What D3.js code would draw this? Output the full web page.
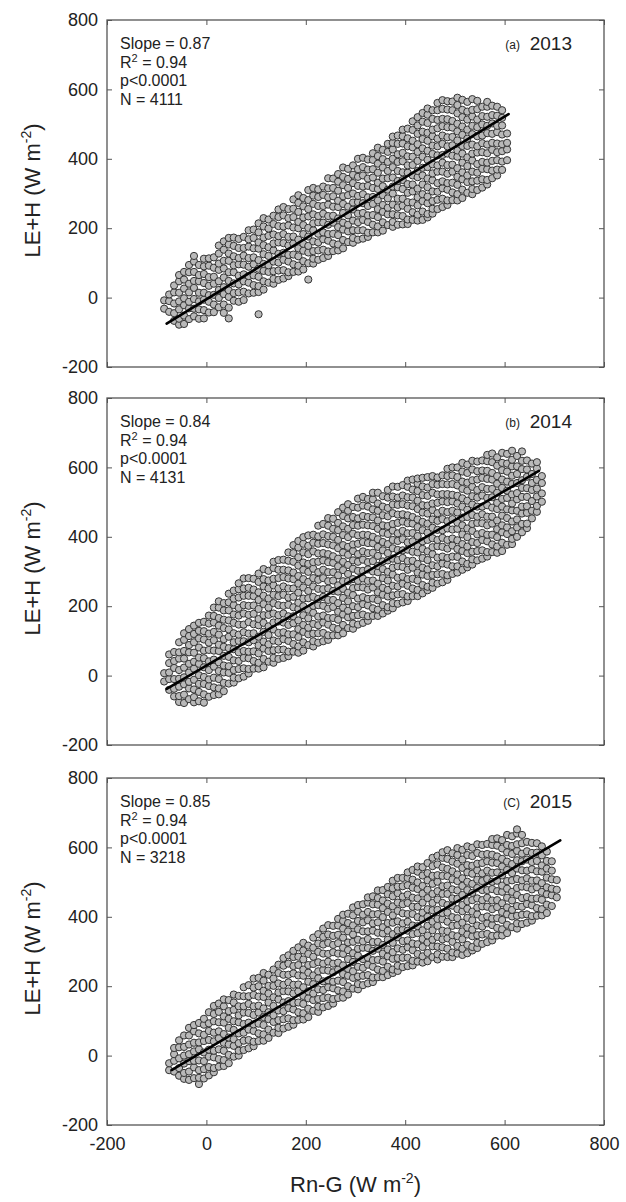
<!DOCTYPE html>
<html><head><meta charset="utf-8">
<script src="https://cdn.jsdelivr.net/npm/d3@7"></script>
<style>
body{margin:0;background:#fff}
svg{display:block}
text{font-family:"Liberation Sans",Arial,Helvetica,sans-serif;fill:#222}
</style></head>
<body><svg id="chart" width="626" height="1202"></svg>
<script>
// ---------- data ----------
const xTicks = [-200, 0, 200, 400, 600, 800];
const yTicks = [-200, 0, 200, 400, 600, 800];
const panelLetters = ["(a)", "(b)", "(C)"];
const years = ["2013", "2014", "2015"];
const slopes = ["0.87", "0.84", "0.85"];
const r2s = ["0.94", "0.94", "0.94"];
const pvals = ["p<0.0001", "p<0.0001", "p<0.0001"];
const ns = ["4111", "4131", "3218"];
// regression line end points (Rn-G, LE+H)
const fitX = [[-80, 608], [-80, 669], [-70, 712]];
const fitY = [[-75, 529], [-38, 590], [-42, 620]];

// scatter points grouped by Rn-G value: [Rn-G, [LE+H values]]
const pts2013 = [
[-85,[-32,-8]],[-75,[-41,-10,9]],[-65,[-67,-45,-17,15,35]],[-55,[-78,-61,-34,-11,14,47,65]],[-45,[-76,-52,-22,-2,26,52,74]],
[-35,[-62,-31,-12,15,40,73,94]],[-25,[-54,-32,-4,28,48,74,104,120]],[-15,[-61,-34,-11,14,47,65,94]],[-5,[-60,-36,-6,14,42,68,90,112]],[5,[-43,-12,7,34,59,92,113]],
[15,[-42,-20,8,40,60,86,116]],[25,[-28,-1,22,47,80,98,127,150]],[35,[-44,-20,10,30,58,84,106,138,162]],[45,[-60,-29,2,21,48,73,106,127,153,172]],[55,[-9,13,41,73,93,119,149,173]],
[65,[-12,15,38,63,96,114,143,169]],[75,[-7,17,47,67,95,121,143,175]],[85,[12,43,62,89,114,147,168,194]],[95,[14,36,64,96,116,142,172,196]],[105,[-48,16,33,60,83,108,141,159,188,214]],
[115,[23,47,77,97,125,151,173,205,229]],[125,[43,74,93,120,145,178,199,225]],[135,[40,54,76,104,136,156,182,212,236]],[145,[51,78,101,126,159,177,206,232,254]],[155,[55,79,109,129,157,183,205,237,261]],
[165,[62,73,104,123,150,175,208,229,255]],[175,[74,96,124,156,176,202,232,256,283]],[185,[75,92,119,142,167,200,218,247,273,295]],[195,[81,105,135,155,183,209,231,263,287]],[205,[52,99,130,149,176,201,234,255,281,310]],
[215,[98,112,134,162,194,214,240,270,294,316]],[225,[109,136,159,184,217,235,264,290,312]],[235,[114,138,168,188,216,242,264,296,320]],[245,[120,133,164,183,210,235,268,289,315,344]],[255,[134,156,184,216,236,262,292,316,343]],
[265,[136,153,180,203,228,261,279,308,334,356]],[275,[142,166,196,216,244,270,292,324,348,375]],[285,[160,191,210,237,262,295,316,342,371]],[295,[158,172,194,222,254,274,300,330,354,381]],[305,[167,194,217,242,275,293,322,348,370,400]],
[315,[170,194,224,244,272,298,320,352,376,403]],[325,[175,187,218,237,264,289,322,343,369,398]],[335,[188,210,238,270,290,316,346,370,397,416]],[345,[188,205,232,255,280,313,331,360,386,408,432]],[355,[193,217,247,267,295,321,343,375,399,426]],
[365,[209,240,259,286,311,344,365,391,420,443]],[375,[204,218,240,268,300,320,346,376,400,427,446,464]],[385,[210,237,260,285,318,336,365,391,413,443,467]],[395,[211,235,265,285,313,339,361,393,417,444,465,484]],[405,[212,225,256,275,302,327,360,381,407,436,459,487]],
[415,[224,246,274,306,326,352,382,406,433,452,483,508]],[425,[222,239,266,289,314,347,365,394,420,442,472,496,520]],[435,[224,248,278,298,326,352,374,406,430,457,478,507,532]],[445,[231,241,272,291,318,343,376,397,423,452,475,503,527,545]],[455,[242,256,278,306,338,358,384,414,438,465,484,515,540]],
[465,[255,282,305,330,363,381,410,436,458,488,512,540,561]],[475,[261,285,315,335,363,389,411,443,467,494,515,544,569]],[485,[267,280,311,330,357,382,415,436,462,491,514,542,566]],[495,[281,303,331,363,383,409,439,463,490,509,540,565]],[505,[280,298,325,348,373,406,424,453,479,501,531,555,576]],
[515,[287,311,341,361,389,415,437,469,493,520,541,570]],[525,[302,333,352,379,404,437,458,484,513,536,564]],[535,[298,313,335,363,395,415,441,471,495,522,541,572]],[545,[310,337,360,385,418,436,465,491,513,543,567]],[555,[317,341,371,391,419,445,467,499,523,550]],
[565,[326,339,370,389,416,441,474,495,521,550,564]],[575,[344,366,394,426,446,472,502,526,553]],[585,[352,369,396,419,444,477,495,524,550]],[595,[368,392,422,442,470,496,518,540]],[605,[396,427,446,473]]
];

const pts2014 = [
[-85,[-17,7]],[-75,[-41,-10,9,36,61]],[-65,[-60,-38,-10,22,42,68]],[-55,[-76,-59,-32,-9,16,49,67,96]],[-45,[-79,-55,-25,-5,23,49,71,103,122]],
[-35,[-68,-37,-18,9,34,67,88,114,134]],[-25,[-77,-62,-40,-12,20,40,66,96,120,144]],[-15,[-74,-47,-24,1,34,52,81,107,129,152]],[-5,[-78,-54,-24,-4,24,50,72,104,128,155]],[5,[-61,-30,-11,16,41,74,95,121,150,173]],
[15,[-56,-34,-6,26,46,72,102,126,153,172,196]],[25,[-54,-37,-10,13,38,71,89,118,144,166,196,214]],[35,[-45,-21,9,29,57,83,105,137,161,188,209]],[45,[-23,8,27,54,79,112,133,159,188,211,236]],[55,[-20,-6,16,44,76,96,122,152,176,203,222,245]],
[65,[-8,19,42,67,100,118,147,173,195,225,249,266]],[75,[-3,21,51,71,99,125,147,179,203,230,251,280]],[85,[6,19,50,69,96,121,154,175,201,230,253,281]],[95,[20,42,70,102,122,148,178,202,229,248,279]],[105,[20,37,64,87,112,145,163,192,218,240,270,294]],
[115,[24,48,78,98,126,152,174,206,230,257,278,307]],[125,[40,71,90,117,142,175,196,222,251,274,302]],[135,[37,51,73,101,133,153,179,209,233,260,279,310,328]],[145,[48,75,98,123,156,174,203,229,251,281,305,333]],[155,[51,75,105,125,153,179,201,233,257,284,305,334]],
[165,[56,69,100,119,146,171,204,225,251,280,303,331,355]],[175,[69,91,119,151,171,197,227,251,278,297,328,353,376]],[185,[66,84,111,134,159,192,210,239,265,287,317,341,369,388]],[195,[72,96,126,146,174,200,222,254,278,305,326,355,380,399]],[205,[88,119,138,165,190,223,244,270,299,322,350,374,404]],
[215,[84,99,121,149,181,201,227,257,281,308,327,358,383,406]],[225,[95,122,145,170,203,221,250,276,298,328,352,380,401,432]],[235,[99,123,153,173,201,227,249,281,305,332,353,382,407,437]],[245,[103,116,147,166,193,218,251,272,298,327,350,378,402,432,454]],[255,[116,138,166,198,218,244,274,298,325,344,375,400,423,452]],
[265,[116,134,161,184,209,242,260,289,315,337,367,391,419,440,471]],[275,[122,146,176,196,224,250,272,304,328,355,376,405,430,460,484]],[285,[137,168,187,214,239,272,293,319,348,371,399,423,453,475,494]],[295,[135,150,172,200,232,252,278,308,332,359,378,409,434,457,486]],[305,[147,174,197,222,255,273,302,328,350,380,404,432,453,484,510]],
[315,[152,176,206,226,254,280,302,334,358,385,406,435,460,490,515]],[325,[158,171,202,221,248,273,306,327,353,382,405,433,457,487,509]],[335,[172,194,222,254,274,300,330,354,381,400,431,456,479,508,527]],[345,[172,190,217,240,265,298,316,345,371,393,423,447,475,496,527]],[355,[179,203,233,253,281,307,329,361,385,412,433,462,487,517]],
[365,[187,197,228,247,274,299,332,353,379,408,431,459,483,513,535]],[375,[194,209,231,259,291,311,337,367,391,418,437,468,493,516,545]],[385,[207,234,257,282,315,333,362,388,410,440,464,492,513,544]],[395,[211,235,265,285,313,339,361,393,417,444,465,494,519,549]],[405,[215,228,259,278,305,330,363,384,410,439,462,490,514,544,562]],
[415,[229,251,279,311,331,357,387,411,438,457,488,513,536,565]],[425,[229,247,274,297,322,355,373,402,428,450,480,504,532,553,568]],[435,[237,261,291,311,339,365,387,419,443,470,491,520,545,570]],[445,[246,256,287,306,333,358,391,412,438,467,490,518,542,572]],[455,[253,268,290,318,350,370,396,426,450,477,496,527,552,575]],
[465,[265,292,315,340,373,391,420,446,468,498,522,550,571]],[475,[269,293,323,343,371,397,419,451,475,502,523,552,577]],[485,[276,289,320,339,366,391,424,445,471,500,523,551,575,596]],[495,[293,315,343,375,395,421,451,475,502,521,552,577,600]],[505,[297,315,342,365,390,423,441,470,496,518,548,572,600]],
[515,[305,329,359,379,407,433,455,487,511,538,559,588,613]],[525,[312,322,353,372,399,424,457,478,504,533,556,584,608]],[535,[320,335,357,385,417,437,463,493,517,544,563,594,619]],[545,[332,359,382,407,440,458,487,513,535,565,589,617]],[555,[337,361,391,411,439,465,487,519,543,570,591,620]],
[565,[343,356,387,406,433,458,491,512,538,567,590,618,636]],[575,[356,378,406,438,458,484,514,538,565,584,615,640]],[585,[354,372,399,422,447,480,498,527,553,575,605,629]],[595,[359,383,413,433,461,487,509,541,565,592,613,642]],[605,[377,408,427,454,479,512,533,559,588,611,639]],
[615,[379,394,416,444,476,496,522,552,576,603,622,648]],[625,[400,427,450,475,508,526,555,581,603,633]],[635,[413,437,467,487,515,541,563,595,619,646]],[645,[425,438,469,488,515,540,573,594,620]],[655,[453,475,503,535,555,581,611]],
[665,[472,489,516,539,564,597,615]],[675,[501,525,555,575]]
];

const pts2015 = [
[-75,[-42,-22]],[-65,[-46,-15,4,22]],[-55,[-58,-36,-8,24,44]],[-45,[-67,-50,-23,0,25,58]],[-35,[-70,-46,-16,4,32,58,80]],
[-25,[-65,-34,-15,12,37,70,88]],[-15,[-82,-64,-42,-14,18,38,64,94]],[-5,[-66,-39,-16,9,42,60,89,106]],[5,[-57,-33,-3,17,45,71,93,125]],[15,[-48,-36,-5,14,41,66,99,120,143]],
[25,[-32,-10,18,50,70,96,126,150]],[35,[-30,-13,14,37,62,95,113,142,162]],[45,[-22,2,32,52,80,106,128,160]],[55,[-3,28,47,74,99,132,153,176]],[65,[0,14,36,64,96,116,142,172]],
[75,[16,43,66,91,124,142,171,197]],[85,[21,45,75,95,123,149,171,203]],[95,[27,40,71,90,117,142,175,196,222]],[105,[42,64,92,124,144,170,200,224]],[115,[43,61,88,111,136,169,187,216,238]],
[125,[51,75,105,125,153,179,201,233]],[135,[66,97,116,143,168,201,222,248]],[145,[65,80,102,130,162,182,208,238,262]],[155,[78,105,128,153,186,204,233,259,281]],[165,[83,107,137,157,185,211,233,265,289]],
[175,[89,102,133,152,179,204,237,258,284,302]],[185,[103,125,153,185,205,231,261,285,312]],[195,[104,122,149,172,197,230,248,277,303,325]],[205,[111,135,165,185,213,239,261,293,317]],[215,[129,160,179,206,231,264,285,311,340]],
[225,[126,141,163,191,223,243,269,299,323,350]],[235,[139,166,189,214,247,265,294,320,342,366]],[245,[143,167,197,217,245,271,293,325,349,376]],[255,[150,163,194,213,240,265,298,319,345,374]],[265,[166,188,216,248,268,294,324,348,375,394]],
[275,[167,185,212,235,260,293,311,340,366,388,406]],[285,[176,200,230,250,278,304,326,358,382,409]],[295,[193,224,243,270,295,328,349,375,404,427]],[305,[191,206,228,256,288,308,334,364,388,415,434]],[315,[203,230,253,278,311,329,358,384,406,436]],
[325,[208,232,262,282,310,336,358,390,414,441,456]],[335,[212,225,256,275,302,327,360,381,407,436,459]],[345,[226,248,276,308,328,354,384,408,435,454,476]],[355,[226,244,271,294,319,352,370,399,425,447,477]],[365,[232,256,286,306,334,360,382,414,438,465,486]],
[375,[238,248,279,298,325,350,383,404,430,459,482,504]],[385,[244,259,281,309,341,361,387,417,441,468,487,512]],[395,[255,282,305,330,363,381,410,436,458,488,512]],[405,[258,282,312,332,360,386,408,440,464,491,512,528]],[415,[260,273,304,323,350,375,408,429,455,484,507,535]],
[425,[271,293,321,353,373,399,429,453,480,499,530,545]],[435,[268,286,313,336,361,394,412,441,467,489,519,543]],[445,[272,296,326,346,374,400,422,454,478,505,526,555]],[455,[284,315,334,361,386,419,440,466,495,518,546,570]],[465,[277,292,314,342,374,394,420,450,474,501,520,551,576]],
[475,[285,312,335,360,393,411,440,466,488,518,542,570,586]],[485,[284,308,338,358,386,412,434,466,490,517,538,567,592]],[495,[284,297,328,347,374,399,432,453,479,508,531,559,583]],[505,[294,316,344,376,396,422,452,476,503,522,553,578,598]],[515,[290,308,335,358,383,416,434,463,489,511,541,565,593]],
[525,[295,319,349,369,397,423,445,477,501,528,549,578,603]],[535,[303,313,344,363,390,415,448,469,495,524,547,575,599]],[545,[310,325,347,375,407,427,453,483,507,534,553,584,609]],[555,[322,349,372,397,430,448,477,503,525,555,579,607]],[565,[327,351,381,401,429,455,477,509,533,560,581,610]],
[575,[332,345,376,395,422,447,480,501,527,556,579,607,624]],[585,[346,368,396,428,448,474,504,528,555,574,605,626]],[595,[346,364,391,414,439,472,490,519,545,567,597,621]],[605,[353,377,407,427,455,481,503,535,559,586,607,636]],[615,[370,401,420,447,472,505,526,552,581,604,632]],
[625,[366,381,403,431,463,483,509,539,563,590,609,640,652]],[635,[379,406,429,454,487,505,534,560,582,612,636]],[645,[383,407,437,457,485,511,533,565,589,616]],[655,[389,402,433,452,479,504,537,558,584,613]],[665,[403,425,453,485,505,531,561,585,612]],
[675,[404,422,449,472,497,530,548,577,603]],[685,[411,435,465,485,513,539,561,588]],[695,[431,462,481,508,533,560]],[705,[456,478,506]]
];
const allPts = [pts2013, pts2014, pts2015];

// ---------- layout ----------
const svg = d3.select("#chart");
const left = 107, right = 604;
const tops = [20, 398, 778];
const ph = 347;
const x = d3.scaleLinear().domain([-200, 800]).range([left, right]);
const fmt = d => String(d);

tops.forEach((top, i) => {
  const bottom = top + ph;
  const y = d3.scaleLinear().domain([-200, 800]).range([bottom, top]);
  const g = svg.append("g");

  const flat = [];
  allPts[i].forEach(([xv, ys]) => ys.forEach(yv => flat.push([xv, yv])));
  g.append("g").selectAll("circle").data(flat).join("circle")
    .attr("cx", d => x(d[0])).attr("cy", d => y(d[1])).attr("r", 3.6)
    .attr("fill", "#b9b9b9").attr("stroke", "#333").attr("stroke-width", 1);

  g.append("line")
    .attr("x1", x(fitX[i][0])).attr("y1", y(fitY[i][0]))
    .attr("x2", x(fitX[i][1])).attr("y2", y(fitY[i][1]))
    .attr("stroke", "#000").attr("stroke-width", 2.6).attr("stroke-linecap", "round");

  const ax = (axis, tx, ty, labels) => {
    const a = g.append("g").attr("transform", `translate(${tx},${ty})`)
      .call(axis.tickSize(-5).tickFormat(fmt));
    a.select(".domain").remove();
    a.selectAll(".tick line").attr("stroke", "#555").attr("stroke-width", 1);
    a.selectAll("text").attr("font-size", 18).attr("fill", "#222")
      .attr("font-family", '"Liberation Sans",Arial,sans-serif');
    if (!labels) a.selectAll("text").remove();
    return a;
  };
  ax(d3.axisLeft(y).tickValues(yTicks).tickPadding(9), left, 0, true);
  ax(d3.axisRight(y).tickValues(yTicks), right, 0, false);
  ax(d3.axisTop(x).tickValues(xTicks), 0, top, false);
  ax(d3.axisBottom(x).tickValues(xTicks).tickPadding(12), 0, bottom, i === 2);

  g.append("rect").attr("x", left).attr("y", top).attr("width", right - left).attr("height", ph)
    .attr("fill", "none").attr("stroke", "#555").attr("stroke-width", 1.3);

  const tx = left + 13, ty0 = top + 29, lh = 18.5;
  g.append("text").attr("x", tx).attr("y", ty0).attr("font-size", 16).text("Slope = " + slopes[i]);
  const r = g.append("text").attr("x", tx).attr("y", ty0 + lh).attr("font-size", 16);
  r.append("tspan").text("R");
  r.append("tspan").attr("dy", -6).attr("font-size", 11).text("2");
  r.append("tspan").attr("dy", 6).text(" = " + r2s[i]);
  g.append("text").attr("x", tx).attr("y", ty0 + 2 * lh).attr("font-size", 16).text(pvals[i]);
  g.append("text").attr("x", tx).attr("y", ty0 + 3 * lh).attr("font-size", 16).text("N = " + ns[i]);

  g.append("text").attr("x", 572).attr("y", top + 30).attr("font-size", 19)
    .attr("text-anchor", "end").text(years[i]);
  g.append("text").attr("x", 520).attr("y", top + 29).attr("font-size", 12)
    .attr("text-anchor", "end").text(panelLetters[i]);

  const yt = g.append("text")
    .attr("transform", `translate(40,${(top + bottom) / 2 - 3}) rotate(-90)`)
    .attr("text-anchor", "middle").attr("font-size", 22);
  yt.append("tspan").text("LE+H (W m");
  yt.append("tspan").attr("dy", -9).attr("font-size", 14).text("-2");
  yt.append("tspan").attr("dy", 9).text(")");
});

const xt = svg.append("text").attr("x", (left + right) / 2).attr("y", 1192)
  .attr("text-anchor", "middle").attr("font-size", 22);
xt.append("tspan").text("Rn-G (W m");
xt.append("tspan").attr("dy", -9).attr("font-size", 14).text("-2");
xt.append("tspan").attr("dy", 9).text(")");
</script>
</body></html>
